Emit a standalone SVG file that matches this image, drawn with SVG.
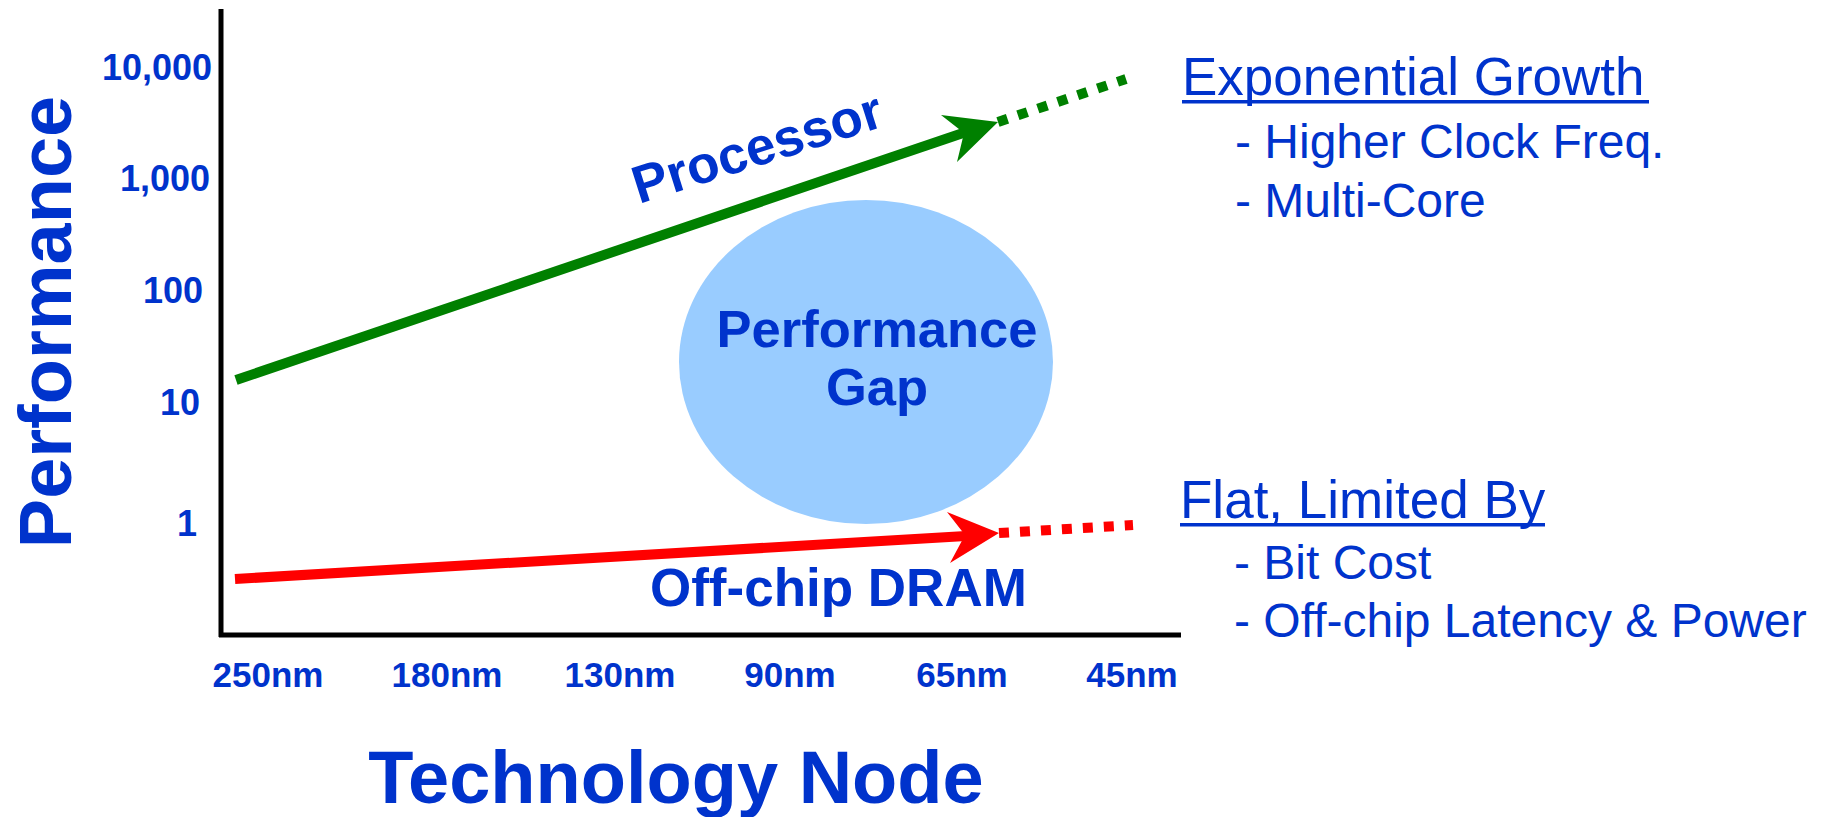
<svg xmlns="http://www.w3.org/2000/svg" width="1824" height="817" viewBox="0 0 1824 817">
<style>
.b{font-family:"Liberation Sans",Arial,sans-serif;font-weight:bold;fill:#0033CC}
.r{font-family:"Liberation Sans",Arial,sans-serif;fill:#0033CC}
.ax{stroke:#000;stroke-width:5;fill:none}
</style>
<rect width="1824" height="817" fill="#fff"/>
<g id="gap">
<ellipse cx="866" cy="362" rx="187" ry="162" fill="#99CCFF"/>
<text class="b" x="877" y="347" font-size="52.5" text-anchor="middle">Performance</text>
<text class="b" x="877" y="405" font-size="52.5" text-anchor="middle">Gap</text>
</g>
<g id="axes">
<line class="ax" x1="221" y1="9" x2="221" y2="637"/>
<line class="ax" x1="219" y1="635" x2="1181" y2="635"/>
</g>
<g id="y-labels" class="b" font-size="36" text-anchor="end">
<text x="212" y="80">10,000</text>
<text x="210" y="191">1,000</text>
<text x="203" y="303">100</text>
<text x="200" y="415">10</text>
<text x="197" y="536">1</text>
</g>
<g id="x-labels" class="b" font-size="35" text-anchor="middle">
<text x="268" y="687">250nm</text>
<text x="447" y="687">180nm</text>
<text x="620" y="687">130nm</text>
<text x="790" y="687">90nm</text>
<text x="962" y="687">65nm</text>
<text x="1132" y="687">45nm</text>
</g>
<text id="y-title" class="b" font-size="74" text-anchor="middle" transform="translate(71,322) rotate(-90)">Performance</text>
<text id="x-title" class="b" font-size="74" text-anchor="middle" x="676" y="803">Technology Node</text>
<g id="connectors">
<g id="processor-arrow">
<line x1="236" y1="380" x2="966" y2="132" stroke="#008000" stroke-width="10"/>
<polygon points="998,122 941,115 964,133 957,162" fill="#008000"/>
<line x1="998" y1="122" x2="1126" y2="79" stroke="#008000" stroke-width="10" stroke-dasharray="10 11"/>
</g>
<g id="dram-arrow">
<line x1="235" y1="579" x2="966" y2="536" stroke="#FF0000" stroke-width="10"/>
<polygon points="999,533 947,512 965,535 950,563" fill="#FF0000"/>
<line x1="999" y1="533" x2="1133" y2="525" stroke="#FF0000" stroke-width="10" stroke-dasharray="10 11"/>
</g>
</g>
<text id="processor-label" class="b" font-size="53" transform="translate(639,204) rotate(-17.6)">Processor</text>
<text id="dram-label" class="b" font-size="53" x="650" y="606">Off-chip DRAM</text>
<g id="growth-note" class="r">
<text x="1182" y="95" font-size="53">Exponential Growth</text>
<rect x="1182" y="100" width="467" height="3.5" fill="#0033CC"/>
<text x="1235" y="158" font-size="48">- Higher Clock Freq.</text>
<text x="1235" y="217" font-size="48">- Multi-Core</text>
</g>
<g id="flat-note" class="r">
<text x="1180" y="518" font-size="53">Flat, Limited By</text>
<rect x="1180" y="523" width="365" height="3.5" fill="#0033CC"/>
<text x="1234" y="579" font-size="48">- Bit Cost</text>
<text x="1234" y="637" font-size="48">- Off-chip Latency &amp; Power</text>
</g>
</svg>
